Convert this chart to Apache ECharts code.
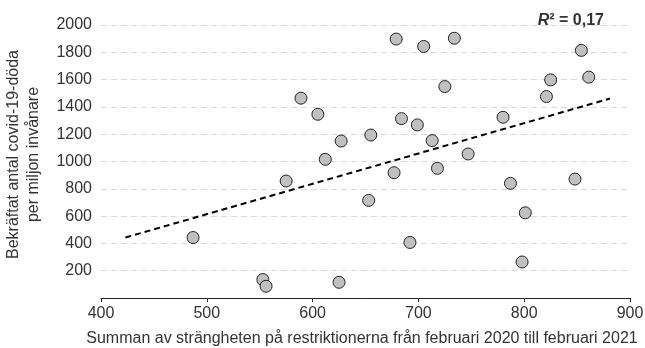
<!DOCTYPE html>
<html>
<head>
<meta charset="utf-8">
<script src="https://cdn.jsdelivr.net/npm/echarts@6/dist/echarts.min.js"></script>
<style>
  html, body { margin: 0; padding: 0; background: #fff; }
  #chart { width: 645px; height: 348px; }
</style>
</head>
<body>
<div id="chart"></div>
<script>
// stränghet (x) och döda per miljon (y)
const strictness = [487, 553, 556, 575, 589, 605, 612, 627, 625, 653, 655, 677, 679, 684, 692, 699,
  705, 713, 718, 725, 734, 747, 780, 787, 798, 801, 821, 825, 848, 854, 861];
const deaths = [443, 135, 86, 857, 1464, 1346, 1016, 1150, 115, 715, 1194, 918, 1897, 1314, 407, 1268,
  1843, 1153, 950, 1549, 1903, 1055, 1324, 840, 264, 624, 1476, 1598, 871, 1814, 1618];
// trendlinjens ändpunkter
const trendX = [423, 881];
const trendY = [443, 1461];
const xTicks = [400, 500, 600, 700, 800, 900];
const yTicks = [200, 400, 600, 800, 1000, 1200, 1400, 1600, 1800, 2000];

const chart = echarts.init(document.getElementById('chart'));

const textColor = '#333';
const font = 'Liberation Sans';

const option = {
  animation: false,
  title: {
    text: '{i|R}{b|² = 0,17}',
    right: 36,
    top: 8,
    textStyle: {
      rich: {
        i: { fontFamily: font, fontSize: 16, fontWeight: 'bold', fontStyle: 'italic', color: textColor },
        b: { fontFamily: font, fontSize: 16, fontWeight: 'bold', color: textColor }
      }
    }
  },
  grid: {
    left: 101,
    right: 15,
    top: 25,
    bottom: 50,
    outerBoundsMode: 'none'
  },
  xAxis: {
    type: 'value',
    min: xTicks[0],
    max: xTicks[xTicks.length - 1],
    interval: 100,
    name: 'Summan av strängheten på restriktionerna från februari 2020 till februari 2021',
    nameLocation: 'middle',
    nameGap: 33,
    nameTextStyle: { fontFamily: font, fontSize: 16, color: textColor, padding: [0, 7, 0, 0] },
    axisLine: { lineStyle: { color: '#222', width: 1 } },
    axisTick: { show: true, length: 4, lineStyle: { color: '#222' } },
    axisLabel: { fontFamily: font, fontSize: 16, color: textColor, margin: 8 },
    splitLine: { show: false }
  },
  yAxis: {
    type: 'value',
    min: 0,
    max: yTicks[yTicks.length - 1],
    interval: 200,
    name: 'Bekräftat antal covid-19-döda\nper miljon invånare',
    nameLocation: 'middle',
    nameGap: 57,
    nameTextStyle: { fontFamily: font, fontSize: 16, color: textColor, lineHeight: 20, padding: [0, 0, 0, 14] },
    axisLine: { show: false },
    axisTick: { show: false },
    axisLabel: {
      fontFamily: font, fontSize: 16, color: textColor, margin: 9,
      formatter: (v) => (yTicks.includes(v) ? String(v) : '')
    },
    splitLine: { show: true, lineStyle: { color: '#d9d9d9', type: [6, 4], width: 1 } }
  },
  series: [
    {
      type: 'line',
      data: trendX.map((x, i) => [x, trendY[i]]),
      symbol: 'none',
      lineStyle: { color: '#000', width: 2, type: [6, 4] },
      z: 1
    },
    {
      type: 'scatter',
      data: strictness.map((x, i) => [x, deaths[i]]),
      symbolSize: 12,
      itemStyle: { color: '#c0c0c0', borderColor: '#222', borderWidth: 1, opacity: 1 },
      z: 2
    }
  ]
};

chart.setOption(option);
</script>
</body>
</html>
